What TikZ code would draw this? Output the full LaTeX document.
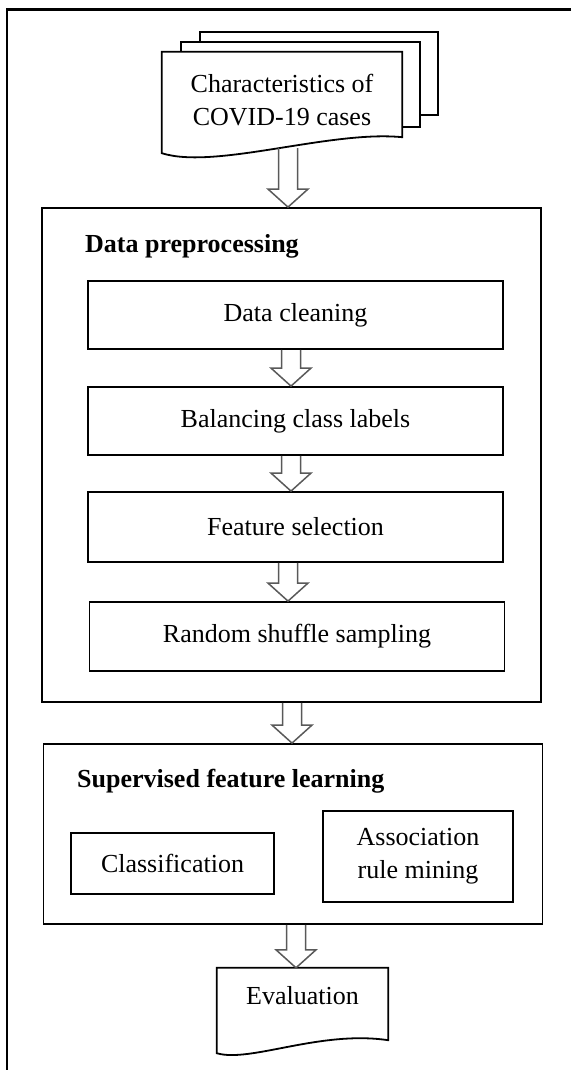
\documentclass[tikz,border=0pt]{standalone}
\usepackage{fontspec}
\setmainfont{Liberation Serif}
\usetikzlibrary{calc, backgrounds}

\newcommand{\flowarrow}[3][0]{%
	\draw[hollowarrow] let \p1=(#2.south), \p2=([xshift=#1pt]#3.north) in
		(\x2-9.5pt,\y1) -- (\x2-9.5pt,\y2+18pt) -- (\x2-20pt,\y2+18pt) -- (\x2,\y2)
		-- (\x2+20pt,\y2+18pt) -- (\x2+9.5pt,\y2+18pt) -- (\x2+9.5pt,\y1);}

\begin{document}
\begin{tikzpicture}[x=1pt, y=-1pt,
	every node/.style={font=\fontsize{26}{33}\selectfont, inner sep=0pt},
	boxline/.style={draw=black, line width=1.8pt},
	sheet/.style={boxline, fill=white},
	stagebox/.style={boxline, minimum width=499pt},
	stepbox/.style={boxline, minimum width=415pt},
	titletext/.style={font=\fontsize{26}{33}\selectfont\bfseries, anchor=base west},
	hollowarrow/.style={draw=black!65, line width=1.5pt, line join=miter}]
	\useasboundingbox (0,0) rectangle (571,1070);

	\coordinate (frameR) at (571,9.5);
	\coordinate (frameC) at (7,9.5);
	\coordinate (frameB) at (7,1070);
	\draw[line width=2.4pt] (frameR) -- (frameC) -- (frameB);

	\node[minimum width=240pt, minimum height=96pt, align=center] (cases) at (282,100) {Characteristics of\\COVID-19 cases};
	\begin{scope}[on background layer]
		\draw[sheet] (200,32) rectangle (438,115);
		\draw[sheet] (181,42) rectangle (420,127);
		\draw[sheet] (cases.north west) -- (cases.north east) -- ($(cases.south east)+(0,-11)$)
			.. controls (330,130) and (215,170) .. ($(cases.south west)+(0,5)$) -- cycle;
	\end{scope}

	\node[stagebox, minimum height=494pt] (prep) at (291.5,455) {};
	\node[titletext] (preptitle) at (85,252) {Data preprocessing};
	\node[stepbox, minimum height=68pt] (clean) at (295.5,315) {Data cleaning};
	\node[stepbox, minimum height=68pt] (balance) at (295.5,421) {Balancing class labels};
	\node[stepbox, minimum height=70pt] (select) at (295.5,527) {Feature selection};
	\node[stepbox, minimum height=69pt] (shuffle) at (297,636.5) {Random shuffle sampling};

	\node[stagebox, minimum height=180pt] (learn) at (293,834) {};
	\node[titletext] (learntitle) at (77,787) {Supervised feature learning};
	\node[boxline, minimum width=203pt, minimum height=61pt] (classif) at (172.5,863.5) {Classification};
	\node[boxline, minimum width=190pt, minimum height=91pt, align=center] (assoc) at (418,856.5) {Association\\rule mining};

	\node[minimum width=171pt, minimum height=56pt] (eval) at (302.5,996) {Evaluation};
	\begin{scope}[on background layer]
		\draw[sheet] (eval.north west) -- (eval.north east) -- ($(eval.south east)+(0,16)$)
			.. controls (320,1030) and (250,1063) .. ($(eval.south west)+(0,29)$) -- cycle;
	\end{scope}

	\flowarrow[-3.5]{cases}{prep}
	\flowarrow[-4.5]{clean}{balance}
	\flowarrow[-4.5]{balance}{select}
	\flowarrow[-9]{select}{shuffle}
	\flowarrow[-1]{prep}{learn}
	\flowarrow[-6.5]{learn}{eval}
\end{tikzpicture}
\end{document}
